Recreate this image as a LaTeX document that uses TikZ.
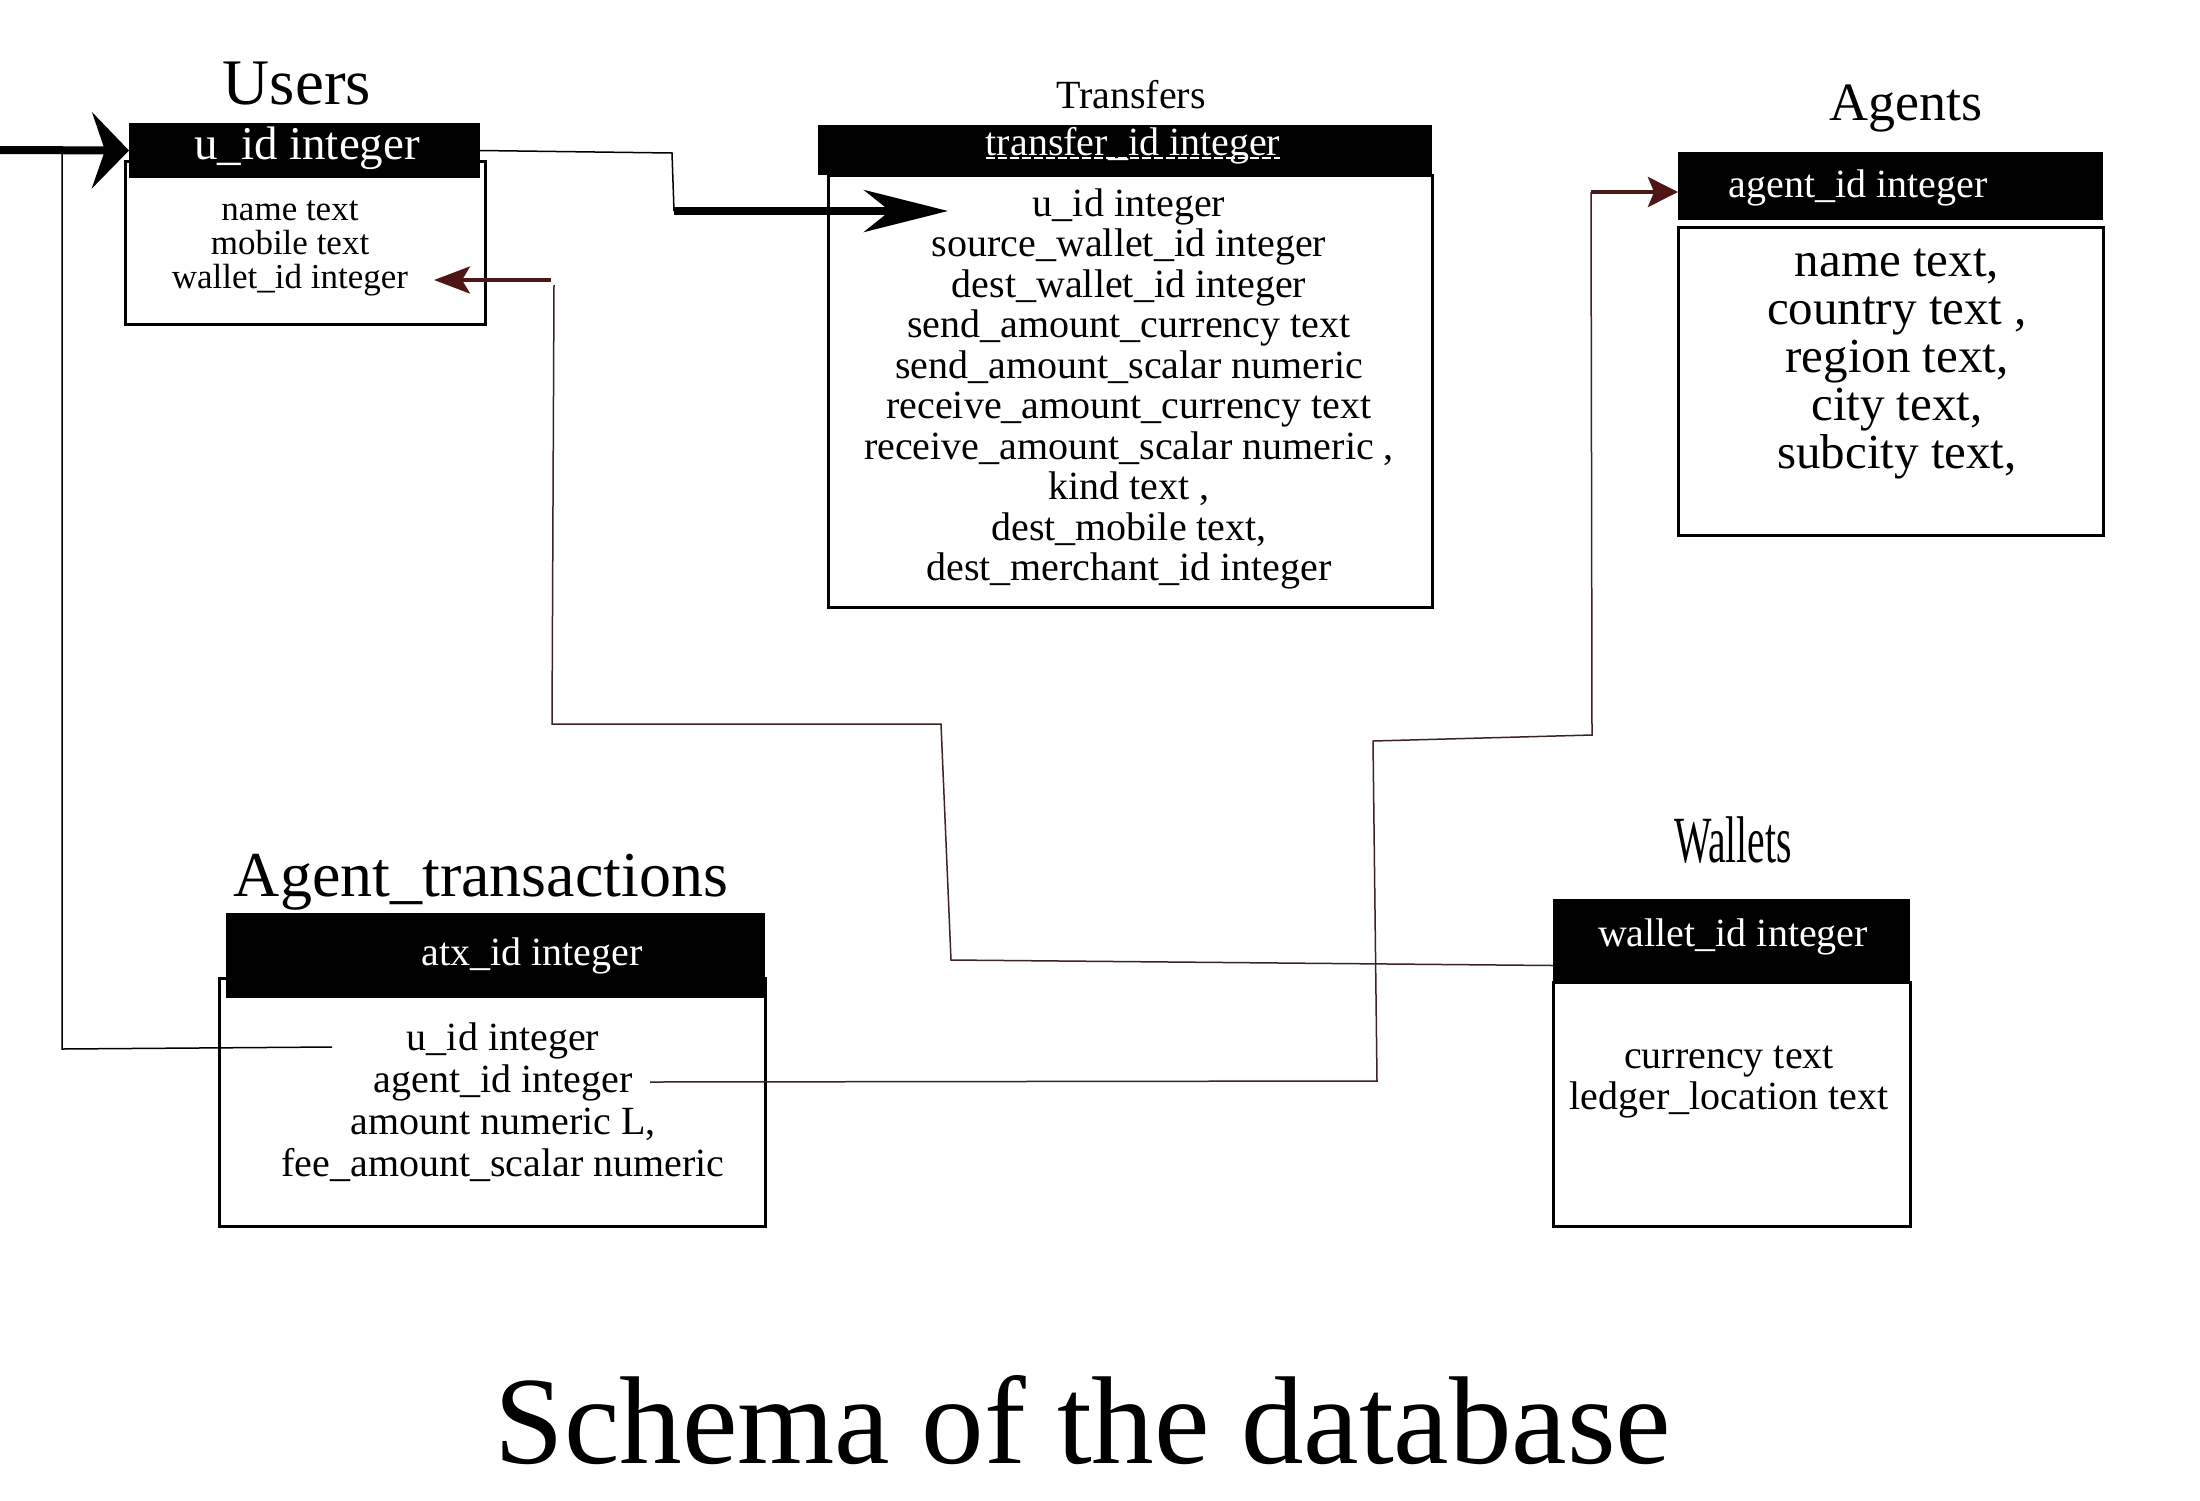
\documentclass[tikz,border=0pt]{standalone}
\usepackage{fontspec}
\setmainfont{Liberation Serif}
\usetikzlibrary{arrows.meta}
\definecolor{linkbrown}{HTML}{3E2323}
\definecolor{arrowred}{HTML}{4E1616}

\begin{document}
\begin{tikzpicture}[x=1pt,y=-1pt]

\def\thinw{1.5pt}
\def\thickw{8pt}

\tikzset{keybar/.style = {fill=black, inner sep=0pt, outer sep=0pt},
         keytext/.style = {text=white, inner sep=0pt, anchor=base, font=\fontsize{40}{40}\selectfont},
         tablebox/.style = {draw, line width=3pt, inner sep=0pt},
         fields/.style = {align=center, inner sep=0pt},
         tabletitle/.style = {inner sep=0pt, anchor=base},
         link/.style = {line width=\thinw}}

\useasboundingbox[fill=white] (0,0) rectangle (2200,1500);

% Users
\node[tabletitle, font=\fontsize{65}{65}\selectfont] (userstitle) at (297,104) {Users};
\node[tablebox, minimum width=360pt, minimum height=163pt] (usersbody) at (305,242.5) {};
\node[keybar, minimum width=351pt, minimum height=55pt] (userskey) at (304.5,150.5) {};
\node[keytext, font=\fontsize{47}{47}\selectfont] (usersid) at (307,159) {u\_id integer};
\node[fields, font=\fontsize{35}{34}\selectfont] (usersfields) at (290,248) {name text\\mobile text\\wallet\_id integer};

% Transfers
\node[tabletitle, font=\fontsize{40}{40}\selectfont] (transferstitle) at (1131,108) {Transfers};
\node[tablebox, minimum width=604pt, minimum height=432pt] (transfersbody) at (1130,391) {};
\node[keybar, minimum width=614pt, minimum height=50pt] (transferskey) at (1125,150) {};
\node[keytext] (transfersid) at (1133,155) {transfer\_id integer};
\draw[white, line width=1.2pt, dash pattern=on 9pt off 3pt] ([yshift=-3pt]transfersid.base west) -- ([yshift=-3pt]transfersid.base east);
\node[fields, font=\fontsize{40}{40.5}\selectfont] (transfersfields) at (1129,389) {u\_id integer\\source\_wallet\_id integer\\dest\_wallet\_id integer\\send\_amount\_currency text\\send\_amount\_scalar numeric\\receive\_amount\_currency text\\receive\_amount\_scalar numeric ,\\kind text ,\\dest\_mobile text,\\dest\_merchant\_id integer};

% Agents
\node[tabletitle, font=\fontsize{54}{54}\selectfont] (agentstitle) at (1906,120) {Agents};
\node[keybar, minimum width=425pt, minimum height=68pt] (agentskey) at (1890.5,186) {};
\node[keytext] (agentsid) at (1858,197) {agent\_id integer};
\node[tablebox, minimum width=425pt, minimum height=308pt] (agentsbody) at (1890.5,381) {};
\node[fields, font=\fontsize{49}{48}\selectfont] (agentsfields) at (1897,363.5) {name text,\\country text ,\\ region text,\\city text,\\subcity text,};

% Agent_transactions
\node[tabletitle, font=\fontsize{64}{64}\selectfont] (atxtitle) at (481,896) {Agent\_transactions};
\node[tablebox, minimum width=546pt, minimum height=248pt] (atxbody) at (492,1102) {};
\node[keybar, minimum width=539pt, minimum height=85pt] (atxkey) at (495.5,955.5) {};
\node[keytext] (atxid) at (532,965) {atx\_id integer};
\node[fields, font=\fontsize{40}{42}\selectfont] (atxfields) at (503,1102) {u\_id integer\\agent\_id integer\\amount numeric L,\\fee\_amount\_scalar numeric};

% Wallets
\node[tabletitle, font=\fontsize{66}{66}\selectfont] (walletstitle) at (1733,862) {\scalebox{0.6}[1]{Wallets}};
\node[tablebox, minimum width=357pt, minimum height=244pt] (walletsbody) at (1731.5,1104) {};
\node[keybar, minimum width=357pt, minimum height=83pt] (walletskey) at (1731.5,940.5) {};
\node[keytext] (walletsid) at (1733,946) {wallet\_id integer};
\node[fields, font=\fontsize{40}{41}\selectfont] (walletsfields) at (1729,1082.5) {currency text\\ledger\_location text};

% u_id
\coordinate (usersin) at (0,150);
\draw[line width=\thickw, -{Stealth[length=37pt, width=76pt, inset=13pt]}] (usersin) -- (userskey.west);

\coordinate (uidjoin) at (62,150);
\coordinate (uidbend) at (62,1049);
\coordinate (atxuid) at (332,1047);
\draw[link] (uidjoin) -- (uidbend) -- (atxuid);

\coordinate (uidturn) at (672,153);
\coordinate (uiddown) at (674,211);
\coordinate (uidtip) at (948,211);
\draw[link] (userskey.east) -- (uidturn) -- (uiddown);
\draw[line width=\thickw, -{Stealth[length=84pt, width=42pt, inset=26pt]}] (uiddown) -- (uidtip);

% wallet_id
\coordinate (wallbend1) at (951,960);
\coordinate (wallbend2) at (941,724);
\coordinate (wallbend3) at (552,724);
\coordinate (wallbend4) at (554,285);
\draw[link, linkbrown] ([yshift=-25pt]walletskey.west) -- (wallbend1) -- (wallbend2) -- (wallbend3) -- (wallbend4);
\coordinate (walltail) at (551,280);
\coordinate (walltip) at (434,280);
\draw[arrowred, line width=4pt, -{Stealth[length=36pt, width=27pt, inset=8pt]}] (walltail) -- (walltip);

% agent_id
\coordinate (agentsdrop) at (1591,192);
\draw[arrowred, line width=4pt, -{Stealth[length=30pt, width=30pt, inset=6pt]}] (agentsdrop) -- (agentskey.west |- agentsdrop);

\coordinate (agbend1) at (1592,735);
\coordinate (agbend2) at (1373,741);
\coordinate (agbend3) at (1377,1081);
\coordinate (atxagent) at (650,1082);
\draw[link, linkbrown] (agentsdrop) -- (agbend1) -- (agbend2) -- (agbend3) -- (atxagent);

% caption
\node[tabletitle, font=\fontsize{125}{125}\selectfont] (schematitle) at (1083,1463) {Schema of the database};

\end{tikzpicture}
\end{document}
